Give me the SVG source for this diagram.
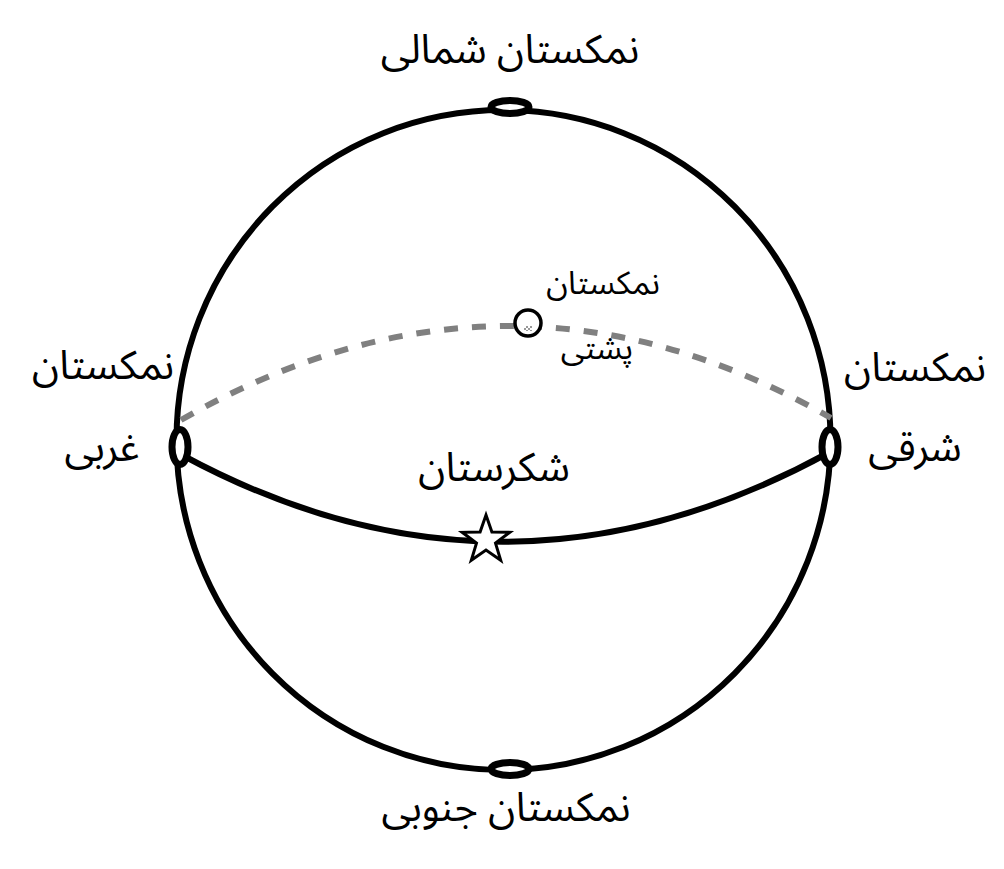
<svg xmlns="http://www.w3.org/2000/svg" width="1004" height="869" viewBox="0 0 1004 869">
<style>
.line{fill:none;stroke:#000;stroke-width:6}
.back{fill:none;stroke:#808080;stroke-width:6;stroke-dasharray:14 14}
.node{fill:#fff;stroke:#000;stroke-width:7}
.lbl{font-family:"Noto Sans Arabic","Noto Naskh Arabic","DejaVu Sans",sans-serif;font-size:40px;fill:#000;text-anchor:middle}
.sm{font-size:32px}
</style>
<defs>
<pattern id="chk" width="4" height="4" patternUnits="userSpaceOnUse">
<rect width="4" height="4" fill="#fff"/>
<rect width="2" height="2" fill="#999"/>
<rect x="2" y="2" width="2" height="2" fill="#999"/>
</pattern>
</defs>
<rect width="1004" height="869" fill="#fff"/>
<g id="connectors">
<ellipse class="line" cx="503.5" cy="440" rx="327" ry="330"/>
<path class="back" d="M181,420 Q508,233 831,418"/>
<path class="line" d="M182,455 Q505,630 830,452"/>
</g>
<g id="north">
<ellipse class="node" cx="510" cy="107" rx="19" ry="6.5"/>
<text class="lbl" x="510" y="63">نمکستان شمالی</text>
</g>
<g id="south">
<ellipse class="node" cx="510" cy="769" rx="19" ry="6.5"/>
<text class="lbl" x="506" y="821">نمکستان جنوبی</text>
</g>
<g id="west">
<ellipse class="node" cx="180" cy="447" rx="8" ry="17.5"/>
<text class="lbl" x="103" y="379">نمکستان</text>
<text class="lbl" x="102" y="461">غربی</text>
</g>
<g id="east">
<ellipse class="node" cx="830" cy="447" rx="8" ry="17.5"/>
<text class="lbl" x="915" y="381">نمکستان</text>
<text class="lbl" x="915" y="461">شرقی</text>
</g>
<g id="back">
<circle cx="528" cy="323" r="13" fill="#fff" stroke="#000" stroke-width="3.5"/>
<rect x="524" y="326" width="8" height="5" fill="url(#chk)"/>
<text class="lbl sm" x="603" y="294">نمکستان</text>
<text class="lbl sm" x="597" y="359">پشتی</text>
</g>
<g id="shekarestan">
<polygon points="486,515 491.9,531.9 509.8,532.3 495.5,543.1 500.7,560.2 486,550 471.3,560.2 476.5,543.1 462.2,532.3 480.1,531.9" fill="#fff" stroke="#000" stroke-width="3"/>
<text class="lbl" x="494" y="481">شکرستان</text>
</g>
</svg>
